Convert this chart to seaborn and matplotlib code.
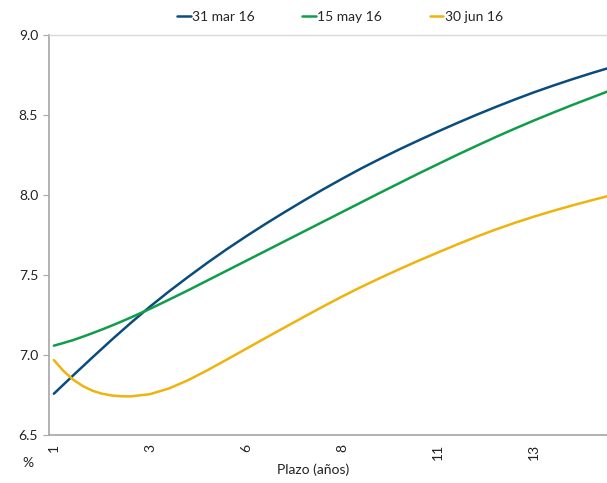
import matplotlib
matplotlib.use("Agg")
import matplotlib.pyplot as plt
import numpy as np
import pandas as pd
import seaborn as sns

# Term (years) and yield-curve values (%) for each date
plazo = [1, 1.25, 1.5, 1.75, 2, 2.25, 2.5, 2.75, 3, 3.5, 4, 4.5, 5, 5.5, 6,
         6.5, 7, 7.5, 8, 8.5, 9, 9.5, 10, 10.5, 11, 11.5, 12, 12.5, 13, 13.5,
         14, 14.5, 15, 15.5]

mar_31 = [6.760, 6.817, 6.874, 6.930, 6.986, 7.041, 7.096, 7.149, 7.202,
          7.304, 7.400, 7.491, 7.579, 7.663, 7.743, 7.820, 7.894, 7.966,
          8.036, 8.103, 8.168, 8.229, 8.288, 8.344, 8.399, 8.452, 8.503,
          8.552, 8.599, 8.644, 8.686, 8.726, 8.764, 8.800]

may_15 = [7.060, 7.077, 7.095, 7.116, 7.138, 7.161, 7.185, 7.210, 7.236,
          7.290, 7.348, 7.407, 7.468, 7.529, 7.590, 7.651, 7.712, 7.773,
          7.834, 7.895, 7.956, 8.017, 8.077, 8.137, 8.195, 8.253, 8.309,
          8.364, 8.417, 8.468, 8.517, 8.565, 8.611, 8.657]

jun_30 = [6.970, 6.902, 6.848, 6.808, 6.779, 6.760, 6.749, 6.744, 6.743,
          6.757, 6.793, 6.845, 6.907, 6.973, 7.040, 7.107, 7.173, 7.239,
          7.304, 7.367, 7.427, 7.484, 7.539, 7.592, 7.643, 7.693, 7.741,
          7.786, 7.828, 7.867, 7.903, 7.937, 7.969, 8.000]

series_names = ["31 mar 16", "15 may 16", "30 jun 16"]
colors = ["#0a4d7c", "#0f9d4a", "#efb30e"]

tick_pos = [1, 3.5, 6, 8.5, 11, 13.5]
tick_labels = ["1", "3", "6", "8", "11", "13"]
y_ticks = [6.5, 7.0, 7.5, 8.0, 8.5, 9.0]

df = pd.DataFrame({
    "plazo": plazo * 3,
    "valor": mar_31 + may_15 + jun_30,
    "serie": np.repeat(series_names, len(plazo)),
})

sns.set_theme(style="white")
plt.rcParams["font.family"] = ["Lato", "DejaVu Sans"]

fig = plt.figure(figsize=(6.07, 4.83), dpi=100)
ax = fig.add_axes([0.0812, 0.0988, 0.9188, 0.828])

sns.lineplot(data=df, x="plazo", y="valor", hue="serie",
             palette=dict(zip(series_names, colors)), hue_order=series_names,
             linewidth=1.8, ax=ax, legend=True)
for line in ax.lines:
    line.set_solid_joinstyle("round")

ax.set_xlim(0.88, 15.4)
ax.set_ylim(6.5, 9.0)
ax.set_yticks(y_ticks)
ax.set_yticklabels([f"{v:.1f}" for v in y_ticks], fontsize=10, color="#222222")
ax.set_xticks(tick_pos)
ax.set_xticklabels(tick_labels, rotation=90, fontsize=10, color="#222222")
ax.tick_params(axis="y", length=4, width=0.8, color="#a6a6a6", direction="out", pad=4, left=True)
ax.tick_params(axis="x", length=0, pad=6)
ax.set_xlabel("")
ax.set_ylabel("")

for side in ["left", "bottom"]:
    ax.spines[side].set_color("#a6a6a6")
    ax.spines[side].set_linewidth(1.2)
ax.spines["top"].set_color("#d9d9d9")
ax.spines["top"].set_linewidth(1.0)
ax.spines["right"].set_visible(False)
ax.grid(False)

handles, labels = ax.get_legend_handles_labels()
ax.legend_.remove()
fig.legend(handles, labels, loc="center", bbox_to_anchor=(0.56, 0.965), ncol=3,
           frameon=False, fontsize=10, handlelength=1.0, handletextpad=0.1,
           columnspacing=3.4)

fig.text(313 / 607, 1 - 470 / 483, "Plazo (años)", ha="center", va="center",
         fontsize=10, color="#222222")
fig.text(28 / 607, 1 - 463 / 483, "%", ha="center", va="center",
         fontsize=10, color="#222222")

fig.savefig("out.png", dpi=100)
